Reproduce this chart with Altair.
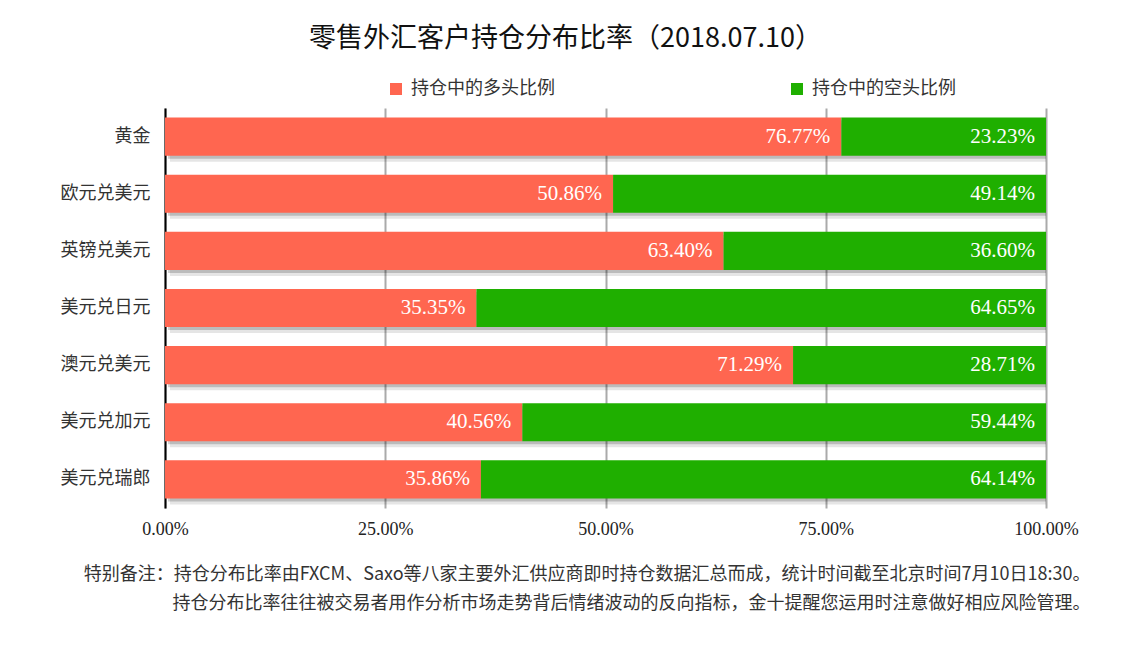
import altair as alt
import pandas as pd

categories = ["黄金", "欧元兑美元", "英镑兑美元", "美元兑日元", "澳元兑美元", "美元兑加元", "美元兑瑞郎"]
long_pct = [76.77, 50.86, 63.40, 35.35, 71.29, 40.56, 35.86]
short_pct = [23.23, 49.14, 36.60, 64.65, 28.71, 59.44, 64.14]
series_names = ["持仓中的多头比例", "持仓中的空头比例"]
series_colors = ["#FF6650", "#1FAF00"]
tick_values = [0, 25, 50, 75, 100]

title_text = "零售外汇客户持仓分布比率（2018.07.10）"
note_lines = [
    "特别备注：持仓分布比率由FXCM、Saxo等八家主要外汇供应商即时持仓数据汇总而成，统计时间截至北京时间7月10日18:30。",
    "持仓分布比率往往被交易者用作分析市场走势背后情绪波动的反向指标，金十提醒您运用时注意做好相应风险管理。",
]

rows = []
for c, l, s in zip(categories, long_pct, short_pct):
    rows.append({"cat": c, "series": series_names[0], "start": 0.0, "end": l, "val": l})
    rows.append({"cat": c, "series": series_names[1], "start": l, "end": l + s, "val": s})
df = pd.DataFrame(rows)
df["label"] = df["val"].map(lambda v: f"{v:.2f}%")
df_total = pd.DataFrame({"cat": categories, "start": [0.0] * len(categories),
                         "end": [l + s for l, s in zip(long_pct, short_pct)]})

CJK = "Noto Sans CJK SC"
SERIF = "Liberation Serif"

y_enc = alt.Y("cat:N", sort=categories,
              scale=alt.Scale(paddingInner=0.333, paddingOuter=0.167),
              axis=alt.Axis(title=None, labelFont=CJK, labelFontSize=18, labelColor="#333333",
                            labelPadding=15, ticks=False, domain=True, domainColor="#000000",
                            domainWidth=2, grid=False))

x_scale = alt.Scale(domain=[0, 100], nice=False, zero=True)
x_axis = alt.Axis(values=tick_values, labelExpr="format(datum.value, '.2f') + '%'",
                  labelFont=SERIF, labelFontSize=18, labelColor="#222222", labelPadding=12,
                  labelFlush=False,
                  domain=False, ticks=False, grid=True, gridColor="#AAAAAA", gridWidth=2,
                  title=note_lines, titleFont=CJK, titleFontSize=18, titleFontWeight="normal",
                  titleColor="#333333", titleAlign="right", titleBaseline="top",
                  titleX=925, titleY=57, titleLineHeight=29)

shadow1 = alt.Chart(df_total).mark_bar(color="#000000", opacity=0.10, xOffset=5, yOffset=6).encode(
    x=alt.X("start:Q", scale=x_scale, axis=x_axis), x2="end:Q", y=y_enc)
shadow2 = alt.Chart(df_total).mark_bar(color="#000000", opacity=0.18, xOffset=3, yOffset=3).encode(
    x=alt.X("start:Q", scale=x_scale), x2="end:Q", y=alt.Y("cat:N", sort=categories))

bars = alt.Chart(df).mark_bar().encode(
    x=alt.X("start:Q", scale=x_scale), x2="end:Q",
    y=alt.Y("cat:N", sort=categories),
    color=alt.Color("series:N", scale=alt.Scale(domain=series_names, range=series_colors),
                    legend=alt.Legend(title=None, orient="none", legendX=222, legendY=-28,
                                      direction="horizontal", columnPadding=233,
                                      symbolType="square", symbolSize=144, symbolStrokeWidth=0,
                                      labelFont=CJK, labelFontSize=18, labelColor="#333333",
                                      labelOffset=6, labelLimit=400)),
)

texts = alt.Chart(df).mark_text(align="right", baseline="middle", dx=-11, color="#FFFFFF",
                                font=SERIF, fontSize=21).encode(
    x=alt.X("end:Q", scale=x_scale), y=alt.Y("cat:N", sort=categories), text="label:N")

chart = alt.layer(shadow1, shadow2, bars, texts).properties(
    width=881, height=400,
    title=alt.TitleParams(title_text, font=CJK, fontSize=27, fontWeight="normal", color="#111111",
                          anchor="middle", dx=-40, offset=27),
    autosize=alt.AutoSizeParams(type="none"),
    padding={"left": 157, "top": 100, "right": 87, "bottom": 129},
).configure_view(stroke=None)

chart.save("out.html", embed_options={"renderer": "svg", "actions": False})
